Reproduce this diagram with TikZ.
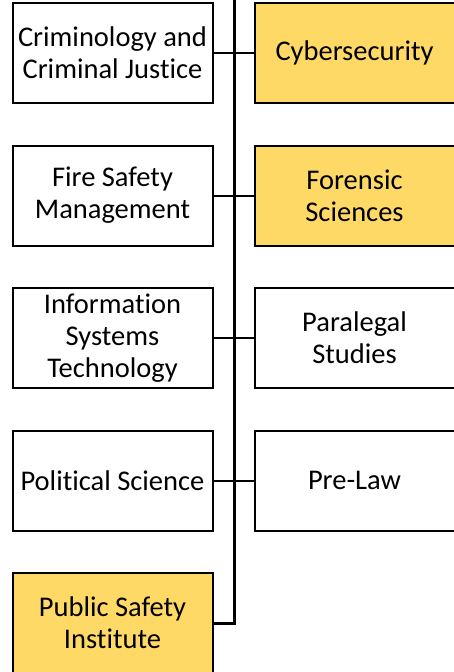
\documentclass[tikz,border=0pt]{standalone}
\usepackage{fontspec}
\setmainfont{Carlito}[Ligatures=NoCommon]
\usetikzlibrary{positioning}
\definecolor{goldFill}{RGB}{255,217,102}
\tikzset{%
  % Specifications for style of boxes and lines:
     base/.style = {rectangle, draw=black, line width=2pt, outer sep=0pt,
                    minimum width=200pt, minimum height=100pt, inner sep=1pt,
                    align=center, font=\fontsize{28.5}{32}\selectfont},
  program/.style = {base, fill=white},
   school/.style = {base, fill=goldFill},
     link/.style = {draw=black, line width=2pt},
    trunk/.style = {draw=black, line width=3pt},
}

\begin{document}
\begin{tikzpicture}[x=1pt, y=-1pt, node distance=42.5pt and 42pt]
\useasboundingbox (0,0) rectangle (454,672);
\node (crim)   [program] at (112.5,53)    {Criminology and\\Criminal Justice};
\node (fire)   [program, below=of crim]   {Fire Safety\\Management};
\node (info)   [program, below=of fire]   {Information\\Systems\\Technology};
\node (poli)   [program, below=of info]   {Political Science};
\node (pub)    [school, below=of poli]    {Public Safety\\Institute};
\node (cyber)  [school, right=of crim]    {Cybersecurity};
\node (foren)  [school, right=of fire]    {Forensic\\Sciences};
\node (para)   [program, right=of info]   {Paralegal\\Studies};
\node (prelaw) [program, right=of poli]   {Pre-Law};
\coordinate (top) at (234,0);

\draw[link] (crim) -- (cyber);
\draw[link] (fire) -- (foren);
\draw[link] (info) -- (para);
\draw[link] (poli) -- (prelaw);
\draw[trunk] (top) |- (pub);
\end{tikzpicture}
\end{document}
